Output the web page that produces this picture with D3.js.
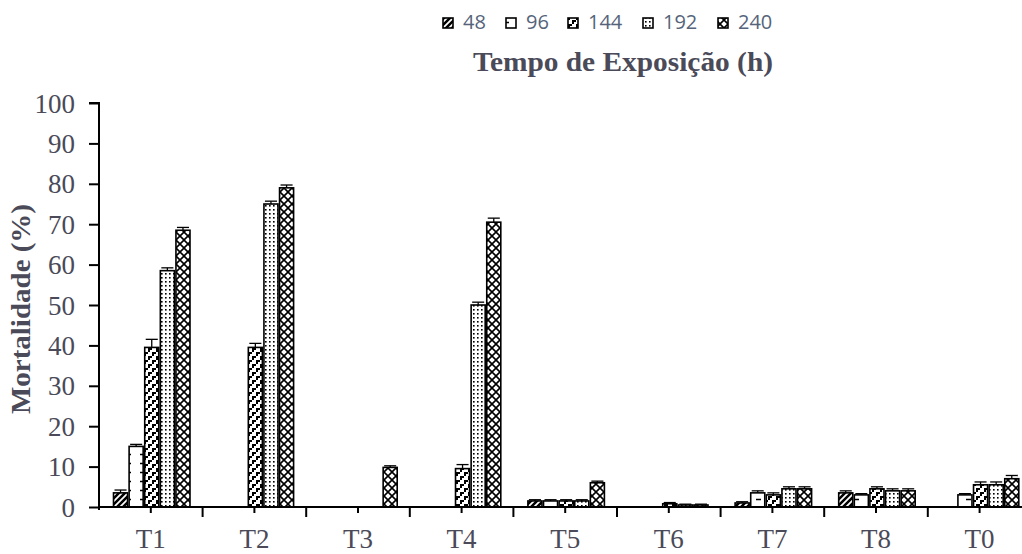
<!DOCTYPE html>
<html>
<head>
<meta charset="utf-8">
<script src="https://cdnjs.cloudflare.com/ajax/libs/d3/7.8.5/d3.min.js"></script>
<style>
  html, body { margin: 0; padding: 0; background: #fff; }
  svg { display: block; }
  .serif { font-family: "Liberation Serif", Tinos, "Times New Roman", Times, serif; }
  .sans { font-family: "Open Sans", "Liberation Sans", Arial, sans-serif; }
</style>
</head>
<body>
<svg id="chart" width="1022" height="554"></svg>
<script>
// ---- data ----
const categories = ["T1", "T2", "T3", "T4", "T5", "T6", "T7", "T8", "T0"];
const seriesNames = ["48", "96", "144", "192", "240"];
const values48  = [3.5, 0, 0, 0, 1.5, 0, 1, 3.5, 0];
const values96  = [15, 0, 0, 0, 1.5, 0, 3.5, 3, 3];
const values144 = [39.5, 39.5, 0, 9.5, 1.5, 0.8, 3, 4.5, 5.5];
const values192 = [58.5, 75, 0, 50, 1.5, 0.5, 4.5, 4, 5.5];
const values240 = [68.5, 79, 9.8, 70.5, 6, 0.5, 4.5, 4, 7];
const errors48  = [0.7, 0, 0, 0, 0.3, 0, 0.3, 0.5, 0];
const errors96  = [0.5, 0, 0, 0, 0.3, 0, 0.5, 0.3, 0.3];
const errors144 = [2, 1, 0, 1, 0.3, 0.3, 0.5, 0.5, 0.7];
const errors192 = [0.7, 0.7, 0, 0.7, 0.3, 0.2, 0.5, 0.5, 0.7];
const errors240 = [0.7, 0.7, 0.4, 1, 0.4, 0.2, 0.5, 0.5, 0.8];
const yTicks = [0, 10, 20, 30, 40, 50, 60, 70, 80, 90, 100];
const yTitle = "Mortalidade (%)";
const legendTitle = "Tempo de Exposição (h)";

const seriesValues = [values48, values96, values144, values192, values240];
const seriesErrors = [errors48, errors96, errors144, errors192, errors240];

// ---- layout ----
const svg = d3.select("#chart");
const x0Left = 99, y0 = 507, yTop = 103;
const step = 103.6;
const x = d3.scaleBand().domain(categories).range([x0Left, x0Left + step * categories.length]).padding(0);
const xi = d3.scaleBand().domain(seriesNames).range([14.5, 91]).paddingInner(0.1);
const y = d3.scaleLinear().domain([0, 100]).range([y0, yTop]);

const textCol = "#4a4a58";

// ---- patterns ----
const defs = svg.append("defs");
function pat(id, w, h, draw) {
  const p = defs.append("pattern").attr("id", id).attr("patternUnits", "userSpaceOnUse")
    .attr("width", w).attr("height", h);
  p.append("rect").attr("width", w).attr("height", h).attr("fill", "#fff");
  draw(p);
}
pat("p48", 6, 6, p => p.append("path").attr("d", "M0,6 L6,0 M-1,1 L1,-1 M5,7 L7,5")
  .attr("stroke", "#000").attr("stroke-width", 2.5));
pat("p96", 14, 9, p => p.append("line").attr("x1", 0).attr("x2", 5).attr("y1", 4.5).attr("y2", 4.5)
  .attr("stroke", "#000").attr("stroke-width", 1.5));
pat("p144", 8, 8, p => {
  p.append("path").attr("d", "M0,0 h4 v2 h-2 v2 h-2 z M4,4 h4 v2 h-2 v2 h-2 z").attr("fill", "#000");
});
pat("p192", 4, 4, p => p.append("rect").attr("x", 1).attr("y", 1).attr("width", 1.6).attr("height", 1.6).attr("fill", "#000"));
pat("p240", 8, 8, p => p.append("path").attr("d", "M0,0 L8,8 M8,0 L0,8")
  .attr("stroke", "#000").attr("stroke-width", 1.6));
const patIds = ["p48", "p96", "p144", "p192", "p240"];

svg.append("rect").attr("width", 1022).attr("height", 554).attr("fill", "#fff");

// ---- bars ----
const flat = [];
seriesNames.forEach((s, si) => {
  categories.forEach((c, ci) => {
    flat.push({ s, si, c, v: seriesValues[si][ci], e: seriesErrors[si][ci] });
  });
});
const bars = flat.filter(d => d.v > 0);
svg.append("g").selectAll("rect").data(bars).join("rect")
  .attr("x", d => x(d.c) + xi(d.s))
  .attr("y", d => y(d.v))
  .attr("width", xi.bandwidth())
  .attr("height", d => y0 - y(d.v))
  .attr("fill", d => `url(#${patIds[d.si]})`)
  .attr("stroke", "#000")
  .attr("stroke-width", 1.6);

// error bars
const eb = svg.append("g").attr("stroke", "#000").attr("stroke-width", 1.3);
bars.filter(d => d.e > 0).forEach(d => {
  const cx = x(d.c) + xi(d.s) + xi.bandwidth() / 2;
  const hw = xi.bandwidth() / 2 - 1;
  eb.append("line").attr("x1", cx).attr("x2", cx).attr("y1", y(d.v)).attr("y2", y(d.v + d.e));
  eb.append("line").attr("x1", cx - hw).attr("x2", cx + hw).attr("y1", y(d.v + d.e)).attr("y2", y(d.v + d.e));
});

// ---- axes ----
const yAxis = d3.axisLeft(y).tickValues(yTicks).tickSize(10).tickPadding(14);
const gy = svg.append("g").attr("transform", `translate(${x0Left},0)`).call(yAxis)
  .attr("font-family", null).attr("font-size", null).attr("class", "serif");
gy.select(".domain").attr("stroke", "#000").attr("stroke-width", 2).attr("d", `M-10,${yTop}H0V${y0 + 3}`);
gy.selectAll(".tick line").attr("stroke", "#000").attr("stroke-width", 2);
gy.selectAll(".tick text").attr("font-size", 27).attr("fill", textCol).attr("dy", "0.34em");

const xAxis = d3.axisBottom(x).tickSize(6).tickPadding(16);
const gx = svg.append("g").attr("transform", `translate(0,${y0})`).call(xAxis)
  .attr("font-family", null).attr("font-size", null).attr("class", "serif");
gx.select(".domain").attr("stroke", "#000").attr("stroke-width", 2).attr("d", `M${x0Left},0H1022`);
gx.selectAll(".tick line").attr("stroke", "#000").attr("stroke-width", 2);
gx.selectAll(".tick text").attr("font-size", 27).attr("fill", textCol).attr("dy", "0.71em");
// boundary ticks
gx.append("g").selectAll("line").data(categories.slice(1)).join("line")
  .attr("x1", d => x(d)).attr("x2", d => x(d)).attr("y1", 0).attr("y2", 10)
  .attr("stroke", "#000").attr("stroke-width", 2);

// ---- titles ----
svg.append("text").attr("class", "serif")
  .attr("transform", `translate(30,${(yTop + y0) / 2 + 4}) rotate(-90)`)
  .attr("text-anchor", "middle")
  .attr("font-weight", "bold").attr("font-size", 27)
  .attr("fill", textCol)
  .attr("textLength", 210).attr("lengthAdjust", "spacingAndGlyphs")
  .text(yTitle);

svg.append("text").attr("class", "serif")
  .attr("x", 623).attr("y", 71)
  .attr("text-anchor", "middle")
  .attr("font-weight", "bold").attr("font-size", 27)
  .attr("fill", textCol)
  .attr("textLength", 300).attr("lengthAdjust", "spacingAndGlyphs")
  .text(legendTitle);

// ---- legend ----
const legendX = [443, 506, 568, 643, 718];
const lg = svg.append("g");
seriesNames.forEach((s, i) => {
  lg.append("rect").attr("x", legendX[i]).attr("y", 18).attr("width", 10).attr("height", 10)
    .attr("fill", `url(#${patIds[i]})`).attr("stroke", "#000").attr("stroke-width", 1.6);
  lg.append("text").attr("class", "sans").attr("x", legendX[i] + 20).attr("y", 29)
    .attr("font-size", 20)
    .attr("fill", "#55647a").text(s);
});
</script>
</body>
</html>
